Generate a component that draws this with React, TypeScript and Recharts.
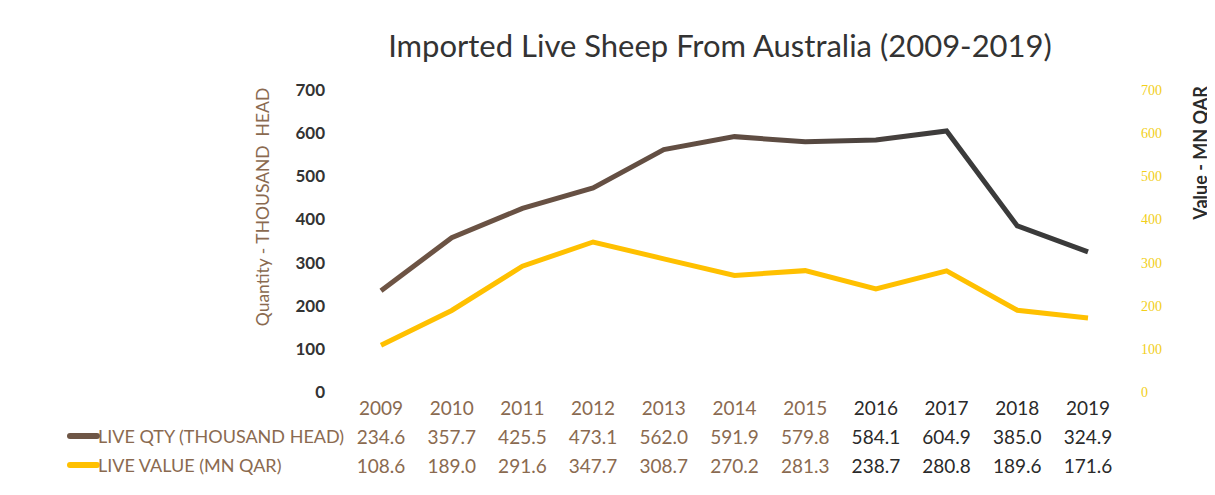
import { ComposedChart, Line, XAxis, YAxis } from "recharts";

const years = ["2009", "2010", "2011", "2012", "2013", "2014", "2015", "2016", "2017", "2018", "2019"];
const liveQty = [234.6, 357.7, 425.5, 473.1, 562.0, 591.9, 579.8, 584.1, 604.9, 385.0, 324.9];
const liveValue = [108.6, 189.0, 291.6, 347.7, 308.7, 270.2, 281.3, 238.7, 280.8, 189.6, 171.6];
const axisTicks = [0, 100, 200, 300, 400, 500, 600, 700];
const seriesNames = ["LIVE QTY (THOUSAND HEAD)", "LIVE VALUE (MN QAR)"];

const data = years.map((year, i) => ({ year, qty: liveQty[i], value: liveValue[i] }));

const BROWN = "#8a6a50";
const DARK = "#2a2a2a";
const GOLD = "#ffc000";
const FONT = "Lato, 'Open Sans', sans-serif";
// the scan turns the table text dark from 2016 onwards
const DARK_FROM = 7;

function TableTick(props: any) {
  const { x, y, payload, index } = props;
  const i = typeof index === "number" ? index : years.indexOf(payload.value);
  const fill = i >= DARK_FROM ? DARK : BROWN;
  const style = { fontFamily: FONT, fontSize: 19 };
  return (
    <g>
      <text x={x} y={y + 15} textAnchor="middle" dominantBaseline="central" fill={fill} style={style}>
        {payload.value}
      </text>
      <text x={x} y={y + 44} textAnchor="middle" dominantBaseline="central" fill={fill} style={style}>
        {liveQty[i].toFixed(1)}
      </text>
      <text x={x} y={y + 73} textAnchor="middle" dominantBaseline="central" fill={fill} style={style}>
        {liveValue[i].toFixed(1)}
      </text>
    </g>
  );
}

export default function App() {
  return (
    <div style={{ position: "relative", width: 1207, height: 487, background: "#fff", fontFamily: FONT }}>
      <div
        style={{
          position: "absolute",
          left: 0,
          width: 1424,
          top: 18,
          textAlign: "center",
          fontSize: 31,
          color: "#333",
          whiteSpace: "nowrap",
        }}
      >
        Imported Live Sheep From Australia (2009-2019)
      </div>
      <div
        style={{
          position: "absolute",
          left: 254,
          top: 199,
          transform: "translate(-50%, -50%) rotate(-90deg)",
          fontSize: 17.5,
          color: BROWN,
          whiteSpace: "nowrap",
        }}
      >
        Quantity - THOUSAND&nbsp; HEAD
      </div>
      <div
        style={{
          position: "absolute",
          left: 1192,
          top: 145,
          transform: "translate(-50%, -50%) rotate(-90deg)",
          fontSize: 18,
          fontWeight: 700,
          color: DARK,
          whiteSpace: "nowrap",
        }}
      >
        Value - MN QAR
      </div>
      {seriesNames.map((name, i) => (
        <div
          key={name}
          style={{
            position: "absolute",
            left: 59,
            top: 428 + i * 29,
            transform: "translateY(-50%)",
            display: "flex",
            alignItems: "center",
            fontSize: 18,
            color: BROWN,
            whiteSpace: "nowrap",
          }}
        >
          <span
            style={{
              display: "inline-block",
              width: 33,
              height: 6,
              borderRadius: 3,
              background: i === 0 ? "#6e5646" : GOLD,
              marginRight: -2,
            }}
          />
          {name}
        </div>
      ))}
      <ComposedChart
        width={1207}
        height={487}
        data={data}
        margin={{ top: 82, right: 32, bottom: 13, left: 250 }}
        style={{ position: "absolute", left: 0, top: 0 }}
      >
        <defs>
          <linearGradient id="qtyStroke" x1="0" y1="0" x2="1" y2="0">
            <stop offset="0%" stopColor="#6e5444" />
            <stop offset="55%" stopColor="#5e4c42" />
            <stop offset="80%" stopColor="#3b3b3b" />
            <stop offset="100%" stopColor="#3a3a3a" />
          </linearGradient>
        </defs>
        <XAxis
          dataKey="year"
          axisLine={false}
          tickLine={false}
          tickSize={0}
          tickMargin={0}
          height={90}
          interval={0}
          padding={{ left: 35, right: 35 }}
          tick={<TableTick />}
        />
        <YAxis
          yAxisId="left"
          domain={[0, 700]}
          ticks={axisTicks}
          axisLine={false}
          tickLine={false}
          tickSize={0}
          tickMargin={21}
          width={88}
          tick={{ fill: "#333", fontSize: 17, fontWeight: 700, fontFamily: FONT }}
        />
        <YAxis
          yAxisId="right"
          orientation="right"
          domain={[0, 700]}
          ticks={axisTicks}
          axisLine={false}
          tickLine={false}
          tickSize={0}
          tickMargin={18}
          width={60}
          tick={{ fill: "#f2cf1a", fontSize: 14, fontFamily: "'Liberation Serif', serif" }}
        />
        <Line
          yAxisId="left"
          dataKey="qty"
          name={seriesNames[0]}
          stroke="url(#qtyStroke)"
          strokeWidth={5}
          dot={false}
          isAnimationActive={false}
        />
        <Line
          yAxisId="right"
          dataKey="value"
          name={seriesNames[1]}
          stroke={GOLD}
          strokeWidth={5}
          dot={false}
          isAnimationActive={false}
        />
      </ComposedChart>
    </div>
  );
}
